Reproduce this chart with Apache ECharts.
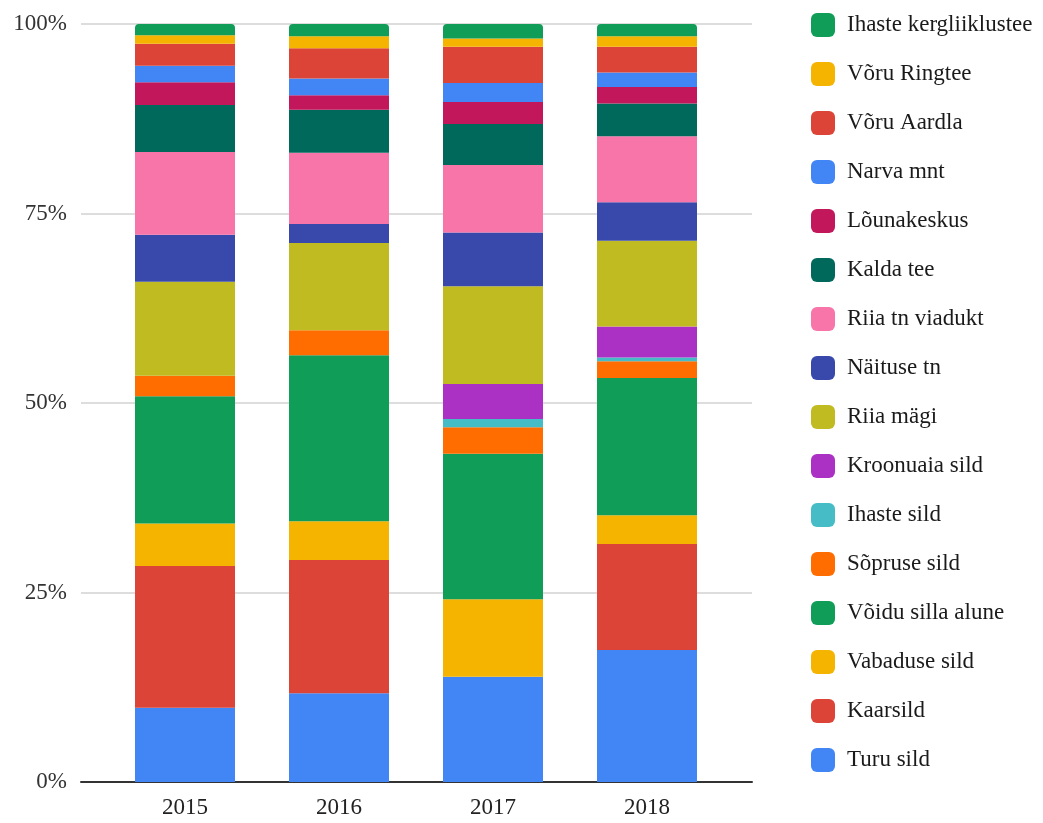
<!DOCTYPE html>
<html>
<head>
<meta charset="utf-8">
<title>Jalgrattaloendused 2015–2018</title>
<script src="https://cdn.jsdelivr.net/npm/echarts@6/dist/echarts.min.js"></script>
<style>
  html, body { margin: 0; padding: 0; background: #ffffff; }
  #chart { width: 1043px; height: 823px; }
</style>
</head>
<body>
<div id="chart"></div>
<script>
// Years on the category axis
const years = ['2015', '2016', '2017', '2018'];

// Share of counts per location (percent), stacked from bottom to top
const turuSild        = [9.8, 11.7, 13.9, 17.4];
const kaarsild        = [18.7, 17.6, 0, 14.0];
const vabaduseSild    = [5.6, 5.1, 10.2, 3.8];
const voiduSillaAlune = [16.8, 21.9, 19.2, 18.1];
const sopruseSild     = [2.7, 3.3, 3.5, 2.2];
const ihasteSild      = [0, 0, 1.1, 0.5];
const kroonuaiaSild   = [0, 0, 4.6, 4.1];
const riiaMagi        = [12.4, 11.5, 12.9, 11.3];
const naituseTn       = [6.2, 2.5, 7.1, 5.1];
const riiaTnViadukt   = [10.9, 9.4, 8.9, 8.7];
const kaldaTee        = [6.2, 5.7, 5.4, 4.3];
const lounakeskus     = [3.0, 1.9, 2.9, 2.2];
const narvaMnt        = [2.2, 2.2, 2.5, 1.9];
const voruAardla      = [2.9, 4.0, 4.8, 3.4];
const voruRingtee     = [1.1, 1.6, 1.1, 1.4];
const ihasteKergliiklustee = [1.5, 1.6, 1.9, 1.6];

// Y axis tick values (percent)
const yTicks = [0, 25, 50, 75, 100];

const seriesDefs = [
  { name: 'Turu sild',            data: turuSild,        color: '#4285F4' },
  { name: 'Kaarsild',             data: kaarsild,        color: '#DB4437' },
  { name: 'Vabaduse sild',        data: vabaduseSild,    color: '#F4B400' },
  { name: 'Võidu silla alune',    data: voiduSillaAlune, color: '#0F9D58' },
  { name: 'Sõpruse sild',         data: sopruseSild,     color: '#FF6D01' },
  { name: 'Ihaste sild',          data: ihasteSild,      color: '#46BDC6' },
  { name: 'Kroonuaia sild',       data: kroonuaiaSild,   color: '#AB30C4' },
  { name: 'Riia mägi',            data: riiaMagi,        color: '#C1BB22' },
  { name: 'Näituse tn',           data: naituseTn,       color: '#3949AB' },
  { name: 'Riia tn viadukt',      data: riiaTnViadukt,   color: '#F775A8' },
  { name: 'Kalda tee',            data: kaldaTee,        color: '#00695C' },
  { name: 'Lõunakeskus',          data: lounakeskus,     color: '#C2185B' },
  { name: 'Narva mnt',            data: narvaMnt,        color: '#4285F4' },
  { name: 'Võru Aardla',          data: voruAardla,      color: '#DB4437' },
  { name: 'Võru Ringtee',         data: voruRingtee,     color: '#F4B400' },
  { name: 'Ihaste kergliiklustee', data: ihasteKergliiklustee, color: '#0F9D58' }
];

const FONT = '"Liberation Serif", "DejaVu Serif", serif';

const series = seriesDefs.map((s, i) => ({
  name: s.name,
  type: 'bar',
  stack: 'total',
  xAxisIndex: 1,
  yAxisIndex: 1,
  barWidth: 100,
  data: s.data,
  itemStyle: {
    color: s.color,
    borderRadius: i === seriesDefs.length - 1 ? [4, 4, 0, 0] : 0
  },
  emphasis: { disabled: true }
}));

const chart = echarts.init(document.getElementById('chart'), null, { renderer: 'canvas' });

chart.setOption({
  animation: false,
  backgroundColor: '#ffffff',
  textStyle: { fontFamily: FONT },
  grid: [
    // grid holding the percent scale, gridlines and baseline
    { left: 81, right: 291, top: 24, bottom: 41 },
    // grid holding the stacked columns
    { left: 108, right: 319, top: 24, bottom: 41 }
  ],
  legend: {
    orient: 'vertical',
    left: 806,
    top: 8,
    itemWidth: 24,
    itemHeight: 24,
    itemGap: 25,
    icon: 'roundRect',
    data: seriesDefs.map(s => s.name).reverse(),
    textStyle: {
      fontFamily: FONT,
      fontSize: 23,
      color: '#1a1a1a',
      padding: [0, 0, 0, 7]
    }
  },
  xAxis: [
    {
      type: 'value',
      gridIndex: 0,
      min: 0,
      max: 1,
      axisLabel: { show: false },
      axisTick: { show: false },
      splitLine: { show: false },
      axisLine: { show: true, lineStyle: { color: '#333333', width: 2 } }
    },
    {
      type: 'category',
      gridIndex: 1,
      data: years,
      axisLine: { show: false },
      axisTick: { show: false },
      axisLabel: {
        margin: 14,
        fontFamily: FONT,
        fontSize: 23,
        color: '#222222'
      }
    }
  ],
  yAxis: [
    {
      type: 'value',
      gridIndex: 0,
      min: yTicks[0],
      max: yTicks[yTicks.length - 1],
      interval: yTicks[1] - yTicks[0],
      axisLine: { show: false },
      axisTick: { show: false },
      axisLabel: {
        margin: 14,
        fontFamily: FONT,
        fontSize: 23,
        color: '#333333',
        formatter: v => v + '%'
      },
      splitLine: { show: true, lineStyle: { color: '#d2d2d2', width: 1.5 } }
    },
    {
      type: 'value',
      gridIndex: 1,
      min: yTicks[0],
      max: yTicks[yTicks.length - 1],
      show: false
    }
  ],
  series: series
});
</script>
</body>
</html>
